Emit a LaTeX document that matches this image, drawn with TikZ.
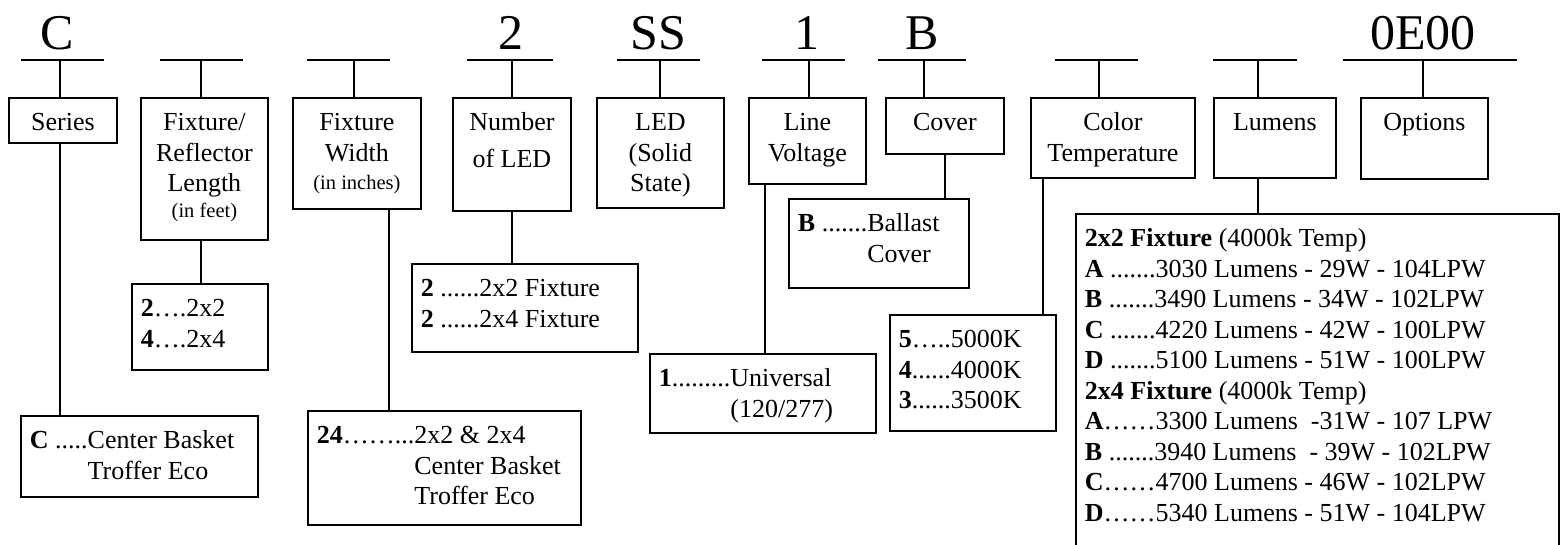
\documentclass[tikz,border=0pt]{standalone}
\usepackage{fontspec}
\setmainfont{Liberation Serif}
\newcommand{\hfont}{\fontsize{26}{30.5}\selectfont}
\newcommand{\sfont}{\fontsize{20.5}{24}\selectfont}
\newcommand{\first}{\rule{0pt}{33pt}}
\newcommand{\boxbody}[3]{\parbox[t][#2pt][t]{#1pt}{#3}}

\begin{document}
\begin{tikzpicture}[
  x=1pt,y=-1pt,
  header/.style={draw,line width=1.8pt,inner sep=0pt,anchor=north west,font=\hfont},
  choice/.style={draw,line width=1.8pt,inner xsep=9pt,inner ysep=0pt,anchor=north west,font=\hfont},
  link/.style={line width=1.8pt},
  bar/.style={line width=2.2pt},
  codeltr/.style={font=\fontsize{50}{50}\selectfont,anchor=base,inner sep=0pt}
]
\useasboundingbox (0,0) rectangle (1562,544);

% Code letters and blanks
\node[codeltr] (lC) at (57,49) {C};
\node[codeltr] (lN) at (511,49) {2};
\node[codeltr] (lS) at (658,49) {SS};
\node[codeltr] (lV) at (807,49) {1};
\node[codeltr] (lB) at (922,49) {B};
\node[codeltr] (lO) at (1423,49) {0E00};

\coordinate (tC) at (60,60);
\coordinate (tL) at (201,60);
\coordinate (tW) at (354,60);
\coordinate (tN) at (512,60);
\coordinate (tS) at (660,60);
\coordinate (tV) at (809,60);
\coordinate (tB) at (924,60);
\coordinate (tT) at (1099,60);
\coordinate (tLu) at (1258,60);
\coordinate (tO) at (1423,60);
\foreach \a/\b in {21/104,160/243,307/390,467/553,617/700,762/845,878/966,1055/1138,1213/1297,1343/1517}
  \draw[bar] (\a,60) -- (\b,60);

% Field boxes
\node[header] (series) at (8,97) {\boxbody{108}{45}{\centering\first Series}};
\node[header] (fixlen) at (140,97) {\boxbody{127}{142}{\centering\first Fixture/\\Reflector\\Length\\[-4.5pt]{\sfont(in feet)}}};
\node[header] (fixwid) at (292,97) {\boxbody{128}{111}{\centering\first Fixture\\Width\\[-2.5pt]{\sfont(in inches)}}};
\node[header] (numled) at (452,97) {\boxbody{118}{113}{\centering\first Number\\[6pt]of LED}};
\node[header] (led) at (596,97) {\boxbody{127}{110}{\centering\first LED\\(Solid\\State)}};
\node[header] (linev) at (748,97) {\boxbody{117}{86}{\centering\first Line\\Voltage}};
\node[header] (cover) at (885,97) {\boxbody{118}{56}{\centering\first Cover}};
\node[header] (colort) at (1030,97) {\boxbody{164}{80}{\centering\first Color\\Temperature}};
\node[header] (lumens) at (1213,97) {\boxbody{122}{80}{\centering\first Lumens}};
\node[header] (options) at (1360,97) {\boxbody{127}{81}{\centering\first Options}};

% Choice boxes
\node[choice] (serOpt) at (20,415) {\boxbody{219}{81}{\raggedright\first\textbf{C} .....Center Basket\\\phantom{\textbf{C} .....}Troffer Eco}};
\node[choice] (lenOpt) at (131,283) {\boxbody{118}{86}{\raggedright\first\textbf{2}….2x2\\\textbf{4}….2x4}};
\node[choice] (widOpt) at (307,410) {\boxbody{255}{114}{\raggedright\first\textbf{24}……...2x2 \& 2x4\\\phantom{\textbf{24}……...}Center Basket\\\phantom{\textbf{24}……...}Troffer Eco}};
\node[choice] (numOpt) at (411,263) {\boxbody{208}{88}{\raggedright\first\textbf{2} ......2x2 Fixture\\\textbf{2} ......2x4 Fixture}};
\node[choice] (lvOpt) at (649,353) {\boxbody{208}{79}{\raggedright\first\textbf{1}.........Universal\\\phantom{\textbf{1}.........}(120/277)}};
\node[choice] (covOpt) at (788,198) {\boxbody{162}{89}{\raggedright\first\textbf{B} .......Ballast\\\phantom{\textbf{B} .......}Cover}};
\node[choice] (ctOpt) at (889,314) {\boxbody{148}{116}{\raggedright\first\textbf{5}…..5000K\\\textbf{4}......4000K\\\textbf{3}......3500K}};
\node[choice] (lumOpt) at (1075,213) {\boxbody{465}{347}{\raggedright\first\textbf{2x2 Fixture} (4000k Temp)\\
  \textbf{A} .......3030 Lumens - 29W - 104LPW\\
  \textbf{B} .......3490 Lumens - 34W - 102LPW\\
  \textbf{C} .......4220 Lumens - 42W - 100LPW\\
  \textbf{D} .......5100 Lumens - 51W - 100LPW\\
  \textbf{2x4 Fixture} (4000k Temp)\\
  \textbf{A}……3300 Lumens\ \ -31W - 107 LPW\\
  \textbf{B} .......3940 Lumens\ \ - 39W - 102LPW\\
  \textbf{C}……4700 Lumens - 46W - 102LPW\\
  \textbf{D}……5340 Lumens - 51W - 104LPW}};

% Stems
\draw[link] (tC) -- (tC |- series.north);
\draw[link] (tL) -- (tL |- fixlen.north);
\draw[link] (tW) -- (tW |- fixwid.north);
\draw[link] (tN) -- (tN |- numled.north);
\draw[link] (tS) -- (tS |- led.north);
\draw[link] (tV) -- (tV |- linev.north);
\draw[link] (tB) -- (tB |- cover.north);
\draw[link] (tT) -- (tT |- colort.north);
\draw[link] (tLu) -- (tLu |- lumens.north);
\draw[link] (tO) -- (tO |- options.north);

\draw[link] (tC |- series.south) -- (tC |- serOpt.north);
\draw[link] (tL |- fixlen.south) -- (tL |- lenOpt.north);
\draw[link] ([xshift=-33pt]fixwid.south east) -- ([xshift=-33pt]fixwid.south east |- widOpt.north);
\draw[link] (numled.south) -- (numled.south |- numOpt.north);
\draw[link] ([xshift=17pt]linev.south west) -- ([xshift=17pt]linev.south west |- lvOpt.north);
\draw[link] (cover.south) -- (cover.south |- covOpt.north);
\draw[link] ([xshift=13pt]colort.south west) -- ([xshift=13pt]colort.south west |- ctOpt.north);
\draw[link] (tLu |- lumens.south) -- (tLu |- lumOpt.north);

\end{tikzpicture}
\end{document}
